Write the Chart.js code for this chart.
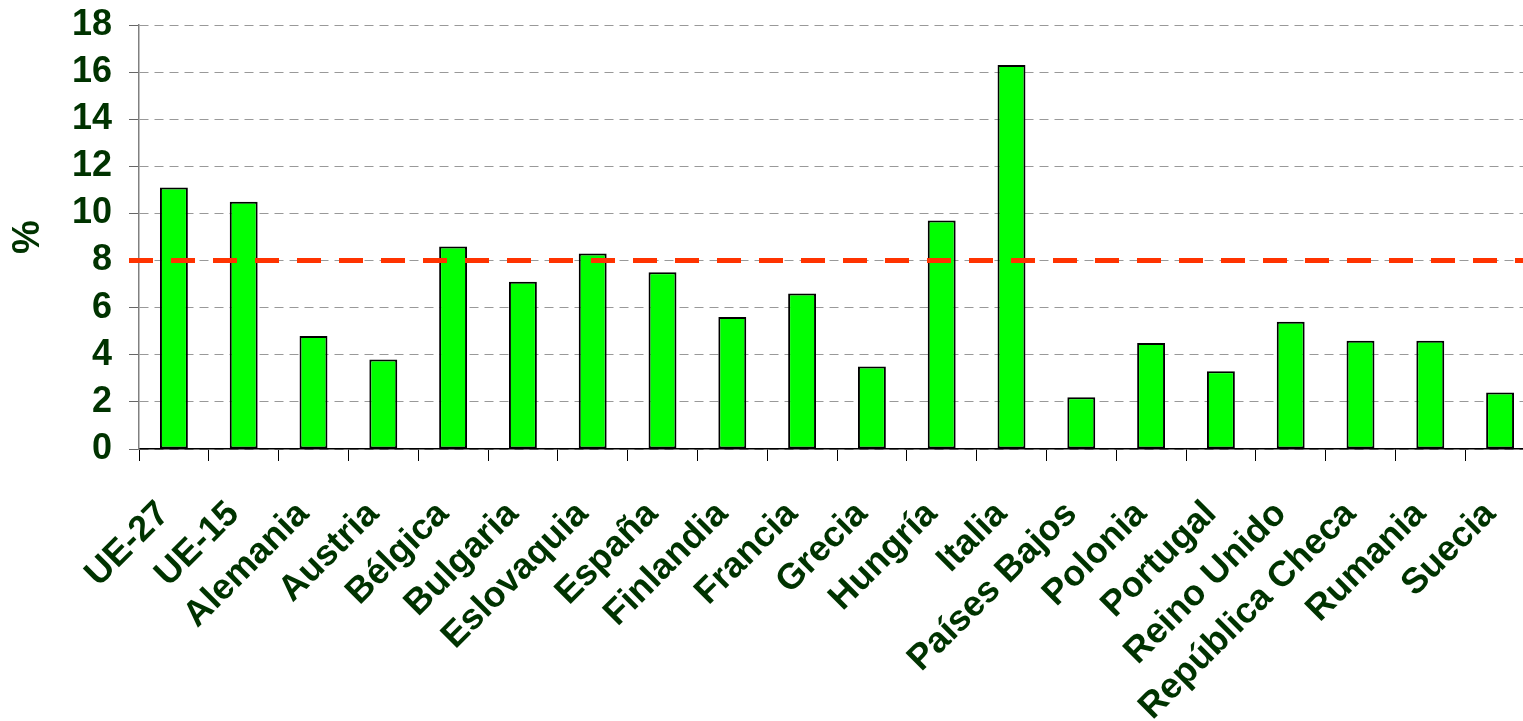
<!DOCTYPE html>
<html>
<head>
<meta charset="utf-8">
<script src="https://cdn.jsdelivr.net/npm/chart.js@4.4.1/dist/chart.umd.min.js"></script>
<style>
  html, body { margin: 0; padding: 0; overflow: hidden; background: #fff; }
  #wrap { width: 1540px; height: 721px; }
</style>
</head>
<body>
<div id="wrap"><canvas id="chart"></canvas></div>
<script>
  const countries = [
    "UE-27", "UE-15", "Alemania", "Austria", "Bélgica", "Bulgaria", "Eslovaquia",
    "España", "Finlandia", "Francia", "Grecia", "Hungría", "Italia", "Países Bajos",
    "Polonia", "Portugal", "Reino Unido", "República Checa", "Rumania", "Suecia"
  ];
  const values = [11.1, 10.5, 4.8, 3.8, 8.6, 7.1, 8.3, 7.5, 5.6, 6.6, 3.5, 9.7, 16.3, 2.2, 4.5, 3.3, 5.4, 4.6, 4.6, 2.4];
  const target = 8;
  const yMin = 0, yMax = 18, yStep = 2;

  const textColor = "#003300";
  const fontFamily = "'Liberation Sans', Arial, sans-serif";

  // dashed red reference line at the target value
  const targetLine = {
    id: "targetLine",
    afterDatasetsDraw(chart) {
      const { ctx, chartArea, scales } = chart;
      const y = scales.y.getPixelForValue(target);
      ctx.save();
      ctx.strokeStyle = "#ff3300";
      ctx.lineWidth = 5;
      ctx.setLineDash([24, 18]);
      ctx.beginPath();
      ctx.moveTo(chartArea.left - 10, y);
      ctx.lineTo(chartArea.right, y);
      ctx.stroke();
      ctx.restore();
    },
  };

  new Chart(document.getElementById("chart"), {
    type: "bar",
    data: {
      labels: countries,
      datasets: [
        {
          data: values,
          backgroundColor: "#00ff00",
          borderColor: "#000000",
          borderWidth: 2,
          borderSkipped: false,
          categoryPercentage: 1,
          barPercentage: 0.4,
        },
      ],
    },
    options: {
      responsive: true,
      maintainAspectRatio: false,
      animation: false,
      layout: { padding: { top: 25, right: 5, left: 0, bottom: 0 } },
      plugins: {
        legend: { display: false },
        tooltip: { enabled: false },
      },
      scales: {
        x: {
          grid: {
            offset: true,
            drawOnChartArea: false,
            drawTicks: true,
            tickLength: 12,
            tickColor: "#000",
            tickWidth: 1,
          },
          border: { color: "#000", width: 1.5 },
          ticks: {
            autoSkip: false,
            maxRotation: 45,
            minRotation: 45,
            padding: 32,
            labelOffset: -10,
            color: textColor,
            font: { family: fontFamily, size: 36, weight: "bold" },
          },
          afterFit(scale) {
            scale.height = 272;
            scale.paddingLeft = 0;
            scale.paddingRight = 0;
          },
        },
        y: {
          min: yMin,
          max: yMax,
          ticks: {
            stepSize: yStep,
            autoSkip: false,
            padding: 17,
            color: textColor,
            font: { family: fontFamily, size: 36, weight: "bold" },
          },
          grid: {
            color: "#999",
            lineWidth: 1,
            tickLength: 10,
            tickColor: "#666",
            tickBorderDash: [],
          },
          border: { display: true, color: "#808080", width: 1.5, dash: [9, 6] },
          title: {
            display: true,
            text: "%",
            color: textColor,
            padding: { top: 6, bottom: 0 },
            font: { family: fontFamily, size: 38, weight: "bold" },
          },
          afterFit(scale) {
            scale.width = 139;
            scale.paddingTop = 0;
            scale.paddingBottom = 0;
          },
        },
      },
    },
    plugins: [targetLine],
  });
</script>
</body>
</html>
